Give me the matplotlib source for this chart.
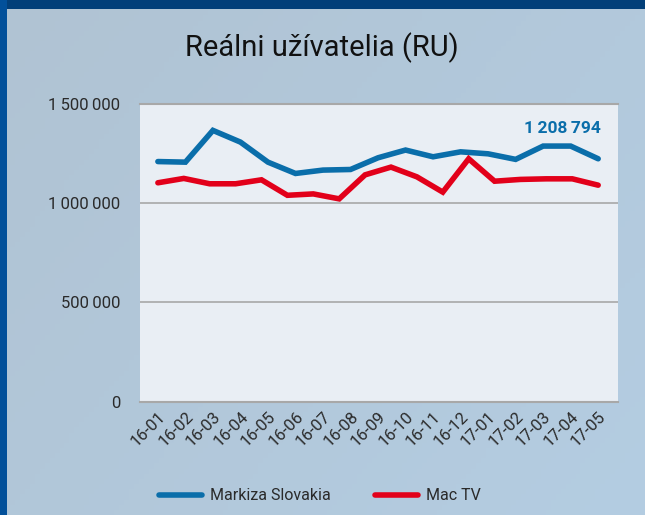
import numpy as np
import matplotlib
matplotlib.use("Agg")
import matplotlib.pyplot as plt
from matplotlib.lines import Line2D
from matplotlib.patches import Rectangle

months = ["16-01", "16-02", "16-03", "16-04", "16-05", "16-06", "16-07", "16-08",
          "16-09", "16-10", "16-11", "16-12", "17-01", "17-02", "17-03", "17-04", "17-05"]
markiza = [1210000, 1207000, 1367000, 1308000, 1207000, 1150000, 1167000, 1170000,
           1229000, 1268000, 1234000, 1259000, 1249000, 1221000, 1288000, 1288000, 1224000]
mactv = [1103000, 1125000, 1098000, 1098000, 1118000, 1040000, 1047000, 1022000, 1143000,
         1182000, 1133000, 1056000, 1224000, 1111000, 1120000, 1123000, 1123000, 1091000]
yticks = [0, 500000, 1000000, 1500000]
ytick_labels = ["0", "500\u2009000", "1\u2009000\u2009000", "1\u2009500\u2009000"]
series_names = ["Markiza Slovakia", "Mac TV"]
title = "Reálni užívatelia (RU)"
last_label = "1\u2009208\u2009794"

BLUE = "#0a6eaa"
RED = "#e2001a"
TXT = "#2a2a2a"

plt.rcParams['font.family'] = ['Roboto', 'DejaVu Sans']

fig = plt.figure(figsize=(6.45, 5.15), dpi=100)

# background gradient
bg = fig.add_axes([0, 0, 1, 1], zorder=-10)
bg.set_axis_off()
h, w = 100, 130
yy, xx = np.mgrid[0:h, 0:w]
t = (xx / w * 0.6 + yy / h * 0.4)
c1 = np.array([0xb0, 0xc3, 0xd3]) / 255
c2 = np.array([0xb4, 0xcd, 0xe2]) / 255
img = c1[None, None, :] * (1 - t[..., None]) + c2[None, None, :] * t[..., None]
bg.imshow(img, extent=[0, 1, 0, 1], aspect='auto', origin='upper')
bg.set_xlim(0, 1)
bg.set_ylim(0, 1)
# borders
bg.add_patch(Rectangle((0, 1 - 8.5 / 515), 1, 8.5 / 515, color="#023f79", lw=0))
bg.add_patch(Rectangle((0, 0), 7 / 645, 1, color="#02509a", lw=0))

ax = fig.add_axes([140 / 645, 1 - 401.7 / 515, (618 - 140) / 645, (401.7 - 104) / 515])
ax.set_facecolor("#e9eef4")

xb = np.arange(len(markiza))
xr = np.linspace(0, len(markiza) - 1, len(mactv))
ax.plot(xb, markiza, color=BLUE, lw=4, solid_capstyle='round', solid_joinstyle='miter', zorder=3)
ax.plot(xr, mactv, color=RED, lw=4, solid_capstyle='round', solid_joinstyle='miter', zorder=3)

ax.set_xlim(-0.65, len(markiza) - 1 + 0.72)
ax.set_ylim(0, 1500000)
ax.set_yticks(yticks)
ax.set_yticklabels(ytick_labels)
ax.set_xticks(xb)
ax.set_xticklabels(months, rotation=45, ha='right', va='top', rotation_mode='anchor')
ax.tick_params(axis='both', length=0, labelsize=12, colors=TXT)
ax.tick_params(axis='y', pad=14)
ax.tick_params(axis='x', pad=5)
ax.grid(axis='y', color="#a8a8a8", lw=1.2)
for s in ['left', 'right']:
    ax.spines[s].set_visible(False)
ax.spines['bottom'].set_color("#a8a8a8")
ax.spines['bottom'].set_linewidth(1.5)
ax.spines['top'].set_color("#a8a8a8")
ax.spines['top'].set_linewidth(1.5)

ax.text(xb[-1] + 0.1, 1378000, last_label, color=BLUE, fontsize=12.5, fontweight='bold',
        ha='right', va='center')

fig.text(322 / 645, 1 - 48 / 515, title, ha='center', va='center', fontsize=21,
         color="#111111")

handles = [Line2D([0], [0], color=BLUE, lw=4, solid_capstyle='round'),
           Line2D([0], [0], color=RED, lw=4, solid_capstyle='round')]
fig.legend(handles, series_names, loc='center', bbox_to_anchor=(320 / 645, 1 - 496 / 515),
           ncol=2, frameon=False, fontsize=11.5, handlelength=2.7, columnspacing=2.8,
           handletextpad=0.5, labelcolor=TXT)

fig.savefig("out.png", dpi=100)
